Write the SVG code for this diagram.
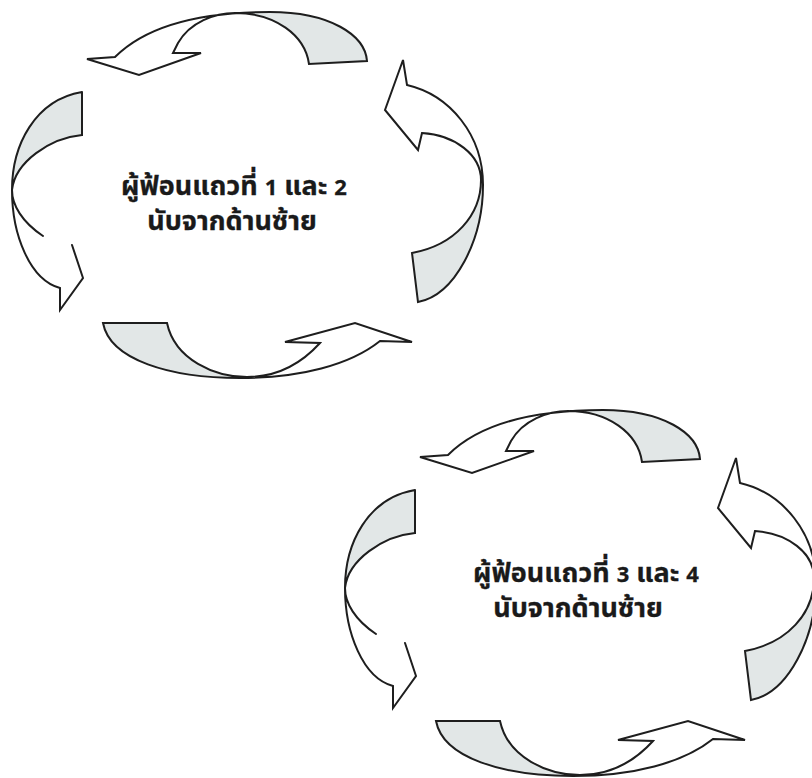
<svg xmlns="http://www.w3.org/2000/svg" xmlns:xlink="http://www.w3.org/1999/xlink" width="812" height="778" viewBox="0 0 812 778">
  <style>
    .ol { fill: none; stroke: #1e1e1e; stroke-width: 2; stroke-linejoin: miter; stroke-linecap: round; }
    .sh { fill: #e2e7e7; stroke: none; }
    .lbl { font-family: "Noto Sans Thai", "Tahoma", "Liberation Sans", "Noto Sans", sans-serif; font-size: 27px; font-weight: bold; fill: #1a1a1a; stroke: #1a1a1a; stroke-width: 0.3; text-anchor: middle; }
    .dg { font-size: 22px; }
  </style>
  <defs>
    <g id="cycle">
      <g id="arrow-top">
        <path class="sh" d="M235,13 C275,13 305,35 309,64 L367,61 C365,35 330,12 270,12 C255,12 245,12.5 235,13 Z"/>
        <path class="ol" d="M367,61 C365,35 330,12 270,12 C210,12 150,22 115,57 L87,59 L139,75 L201,53 L173,53 L178,43 C190,22 215,13 235,13 C275,13 305,35 309,64 Z"/>
      </g>
      <g id="arrow-left">
        <path class="sh" d="M82,92 C35,100 12,145 12,190 C15,162 50,138 82,135 Z"/>
        <path class="ol" d="M82,92 C35,100 12,145 12,190 C12,235 30,280 60,288 L60,310 L83,278 L72,245 M43,236 C22,222 12,205 12,190 C15,162 50,138 82,135 L82,92"/>
      </g>
      <g id="arrow-bottom">
        <path class="sh" d="M103,323 C110,360 170,378 240,378 L247,377 C215,377 175,360 167,323 Z"/>
        <path class="ol" d="M103,323 C110,360 170,378 240,378 C300,378 350,365 380,341 L412,342 L355,323 L285,342 L320,343 C300,365 275,377 247,377 C215,377 175,360 167,323 Z"/>
      </g>
      <g id="arrow-right">
        <path class="sh" d="M481,180 C481,215 455,245 412,253 L418,302 C455,295 483,240 483,185 Z"/>
        <path class="ol" d="M407,85 C450,95 483,135 483,185 C483,240 455,295 418,302 L412,253 C455,245 481,215 481,180 C481,155 455,135 422,133 L418,150 L385,110 L403,60 Z"/>
      </g>
    </g>
  </defs>
  <rect x="0" y="0" width="812" height="778" fill="#ffffff"/>
  <g id="connectors">
    <use xlink:href="#cycle"/>
    <use xlink:href="#cycle" transform="translate(333,398)"/>
  </g>
  <g id="node-rows-1-2">
    <text class="lbl"><tspan x="234" y="195">ผู้ฟ้อนแถวที่ <tspan class="dg">1</tspan> และ <tspan class="dg">2</tspan></tspan><tspan x="232" y="230">นับจากด้านซ้าย</tspan></text>
  </g>
  <g id="node-rows-3-4">
    <text class="lbl"><tspan x="586" y="582">ผู้ฟ้อนแถวที่ <tspan class="dg">3</tspan> และ <tspan class="dg">4</tspan></tspan><tspan x="578" y="617">นับจากด้านซ้าย</tspan></text>
  </g>
</svg>
